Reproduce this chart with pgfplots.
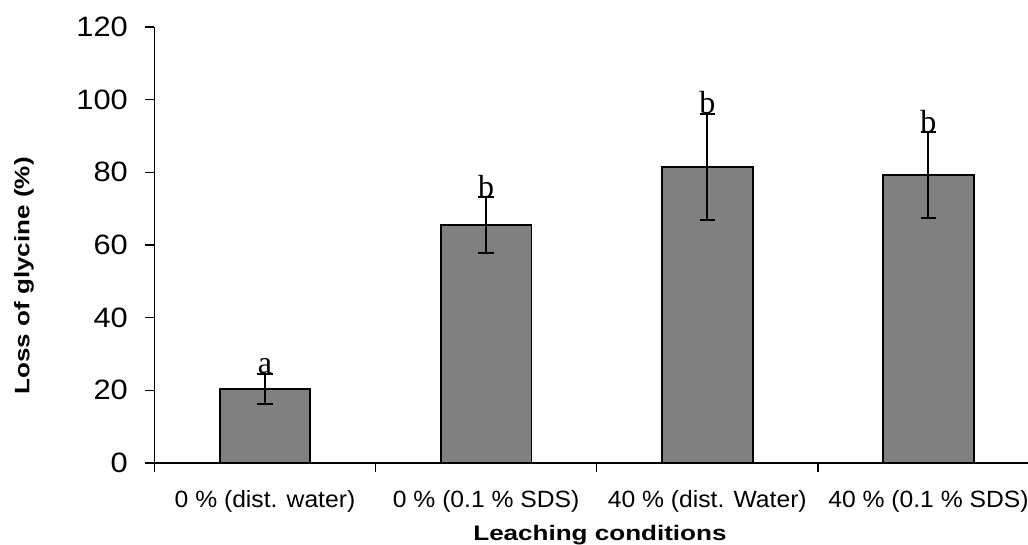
\documentclass[border=0pt]{standalone}
\usepackage{fontspec}
\setmainfont{Liberation Sans}
\newfontfamily\ytfont{Liberation Sans}[FakeStretch=1.1]
\newfontfamily\xtfont{Liberation Sans}[FakeStretch=1.05]
\newfontfamily\labfont{Liberation Sans}[FakeStretch=1.24]
\newfontfamily\letfont{Liberation Serif}
\usepackage{pgfplots}
\pgfplotsset{compat=1.18}
\definecolor{barfill}{RGB}{128,128,128}

\begin{document}
\begin{tikzpicture}
\begin{axis}[
  scale only axis,
  width=436.8bp, height=218bp,
  xmin=-0.5, xmax=3.45, ymin=0, ymax=120,
  axis x line*=bottom, axis y line*=left,
  axis line style={line width=0.7bp, -},
  tick align=outside, major tick length=4.7bp,
  tick style={line width=0.7bp, black},
  /pgf/number format/assume math mode=true,
  ytick={0,20,...,120},
  yticklabel style={font=\ytfont\fontsize{14bp}{16bp}\selectfont, inner sep=0pt, xshift=-8.4bp},
  xtick={-0.5,0.5,1.5,2.5}, xticklabels={},
  extra x ticks={0,1,2,3},
  extra x tick labels={0 \% (dist. water), 0 \% (0.1 \% SDS), 40 \% (dist. Water), 40 \% (0.1 \% SDS)},
  extra x tick style={major tick length=0pt,
    xticklabel style={font=\xtfont\fontsize{11.75bp}{14bp}\selectfont, anchor=base, inner sep=0pt, yshift=-22.3bp}},
  xlabel={Leaching conditions},
  xlabel style={font=\labfont\bfseries\fontsize{10.5bp}{12bp}\selectfont, at={(rel axis cs:0.510,-0.1766)}, anchor=base, inner sep=0pt},
  ylabel={Loss of glycine (\%)},
  ylabel style={font=\labfont\bfseries\fontsize{10.5bp}{12bp}\selectfont, at={(rel axis cs:-0.1493,0.429)}, anchor=center, inner sep=0pt},
]
% mean loss with its error
\addplot[ybar, bar width=0.41, fill=barfill, draw=black, line width=0.9bp,
  error bars/.cd, y dir=both, y explicit,
  error bar style={line width=1bp, black},
  error mark options={rotate=90, line width=1bp, mark size=3.9bp, black}]
  coordinates {
    (0,20.4) +- (0,4.1)
    (1,65.4) +- (0,7.7)
    (2,81.5) +- (0,14.6)
    (3,79.3) +- (0,11.8)
  };
% significance letters at the top of each error bar
\addplot[draw=none, mark=none, nodes near coords, point meta=explicit symbolic,
  every node near coord/.style={anchor=base, inner sep=0pt,
    font=\letfont\fontsize{16bp}{18bp}\selectfont}]
  coordinates {(0,24.5)[a] (1,73.1)[b] (2,96.1)[b] (3,91.1)[b]};
\coordinate (O) at (rel axis cs:0,0);
\coordinate (T) at (rel axis cs:1,1);
\end{axis}
\pgfresetboundingbox
\path[use as bounding box] ([xshift=-77.2bp,yshift=-41bp]O) rectangle ([yshift=13.5bp]T);
\end{tikzpicture}
\end{document}
